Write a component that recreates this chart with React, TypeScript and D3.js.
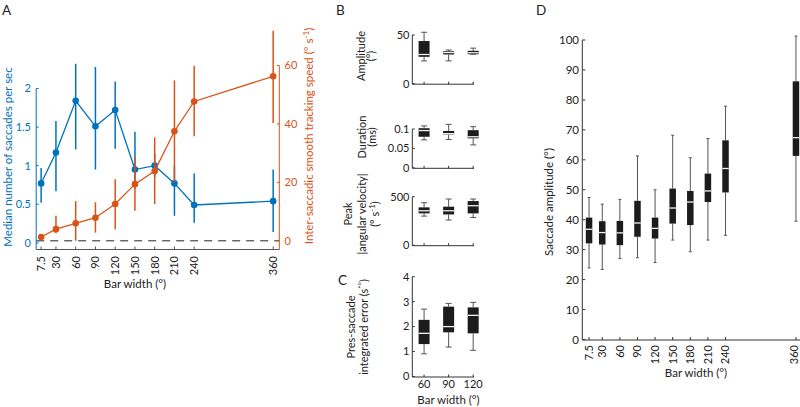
import React from 'react';
import * as d3 from 'd3';

// ---------- DATA ----------
// Panel A
const barWidthsA = [7.5, 30, 60, 90, 120, 150, 180, 210, 240, 360];
const saccadeRate = [0.77, 1.17, 1.84, 1.51, 1.72, 0.95, 1.0, 0.77, 0.49, 0.54];
const saccadeRateLo = [0.52, 0.67, 1.21, 0.95, 1.22, 0.7, 0.85, 0.35, 0.26, 0.14];
const saccadeRateHi = [0.97, 1.58, 2.32, 2.28, 2.09, 1.44, 1.15, 1.0, 0.9, 0.95];
const trackSpeed = [1.3, 4.0, 6.0, 7.9, 12.6, 19.4, 23.9, 37.5, 47.7, 56.3];
const trackSpeedLo = [0.8, 2.6, 0, 2.8, 4.0, 10.3, 12.6, 20.1, 35.8, 40.3];
const trackSpeedHi = [1.8, 8.6, 13.6, 13.2, 21.1, 28.5, 35.4, 54.9, 59.9, 71.9];
const leftTicksA = [0, 0.5, 1, 1.5, 2];
const rightTicksA = [0, 20, 40, 60];

// Panels B & C (bar widths 60, 90, 120); box = [whiskerLo, q1, median, q3, whiskerHi]
const barWidthsBC = [60, 90, 120];
const amplitudeBoxes = [
  [23.4, 27.6, 30.0, 43.8, 52.8],
  [23.4, 30.0, 32.0, 33.4, 34.6],
  [30.3, 30.3, 31.8, 33.8, 36.5],
];
const durationBoxes = [
  [0.072, 0.080, 0.096, 0.102, 0.108],
  [0.073, 0.086, 0.088, 0.095, 0.112],
  [0.059, 0.076, 0.080, 0.097, 0.106],
];
const peakVelBoxes = [
  [300, 328, 355, 390, 438],
  [259, 317, 355, 397, 476],
  [286, 328, 407, 455, 476],
];
const errorBoxes = [
  [0.91, 1.3, 1.73, 2.27, 2.7],
  [1.18, 1.77, 2.0, 2.8, 2.93],
  [1.05, 1.73, 2.45, 2.77, 2.97],
];
const ampTicks = [0, 50];
const durTicks = [0, 0.05, 0.1];
const peakTicks = [0, 500];
const errTicks = [0, 1, 2, 3, 4];

// Panel D
const barWidthsD = [7.5, 30, 60, 90, 120, 150, 180, 210, 240, 360];
const dWhiskerLo = [23.9, 23.4, 27.0, 27.3, 25.7, 33.2, 29.3, 33.2, 34.8, 39.5];
const dQ1 = [32.1, 31.7, 31.5, 34.3, 33.7, 38.7, 38.2, 45.9, 49.1, 61.3];
const dMedian = [36.8, 35.7, 35.6, 38.9, 37.1, 43.9, 45.9, 49.6, 57.1, 67.4];
const dQ3 = [40.7, 39.5, 39.6, 46.3, 40.7, 50.4, 49.6, 55.4, 66.5, 86.2];
const dWhiskerHi = [47.4, 45.2, 46.8, 61.3, 50.0, 68.2, 60.7, 67.1, 77.9, 101.3];
const dTicks = [0, 10, 20, 30, 40, 50, 60, 70, 80, 90, 100];

// ---------- STYLE ----------
const FONT = 'Lato, "Open Sans", sans-serif';
const BLUE = '#0072BD';
const ORANGE = '#D95319';
const AX = '#333';
const TXT = '#222';
const BOXFILL = '#1c1c1c';

function BoxPlot({ cx, w, cap, box, y }: any) {
  const [lo, q1, med, q3, hi] = box;
  return (
    <g>
      <line x1={cx} x2={cx} y1={y(hi)} y2={y(q3)} stroke="#555" strokeWidth={1} />
      <line x1={cx} x2={cx} y1={y(q1)} y2={y(lo)} stroke="#555" strokeWidth={1} />
      <line x1={cx - cap / 2} x2={cx + cap / 2} y1={y(hi)} y2={y(hi)} stroke="#555" strokeWidth={1} />
      <line x1={cx - cap / 2} x2={cx + cap / 2} y1={y(lo)} y2={y(lo)} stroke="#555" strokeWidth={1} />
      <rect x={cx - w / 2} y={y(q3)} width={w} height={Math.max(1, y(q1) - y(q3))} fill={BOXFILL} />
      <line x1={cx - w / 2} x2={cx + w / 2} y1={y(med)} y2={y(med)} stroke="#f2f2f2" strokeWidth={1.3} />
    </g>
  );
}

function SmallPanel({ boxes, domain, range, ticks, labelLines, labelX, labelY, lineGap, showXLabels }: any) {
  const x = d3.scaleLinear().domain([45.6, 121]).range([412.3, 474]);
  const y = d3.scaleLinear().domain(domain).range(range);
  return (
    <g>
      <line x1={x.range()[0]} x2={x.range()[0]} y1={y(domain[1])} y2={range[0] + 0.5} stroke={AX} strokeWidth={1} />
      <line x1={x.range()[0]} x2={x.range()[1]} y1={range[0] + 0.5} y2={range[0] + 0.5} stroke={AX} strokeWidth={1} />
      {ticks.map((t: number) => (
        <g key={t}>
          <line x1={x.range()[0]} x2={x.range()[0] + 2.5} y1={y(t)} y2={y(t)} stroke={AX} />
          <text x={409.5} y={y(t)} dy="0.35em" textAnchor="end" fontSize={11} fill={TXT} fontFamily={FONT}>{String(t)}</text>
        </g>
      ))}
      {barWidthsBC.map((c) => (
        <line key={c} x1={x(c)} x2={x(c)} y1={range[0] + 0.5} y2={range[0] - 2} stroke={AX} />
      ))}
      {boxes.map((b: number[], i: number) => (
        <BoxPlot key={i} cx={x(barWidthsBC[i])} w={11} cap={6} box={b} y={y} />
      ))}
      {showXLabels && barWidthsBC.map((c) => (
        <text key={c} x={x(c)} y={388} textAnchor="middle" fontSize={11} fill={TXT} fontFamily={FONT}>{String(c)}</text>
      ))}
      <g transform={`translate(${labelX},${labelY}) rotate(-90)`}>
        {labelLines.map((ln: any, i: number) => (
          <text key={i} x={0} y={i * lineGap} textAnchor="middle" fontSize={11} fill={TXT} fontFamily={FONT}>{ln}</text>
        ))}
      </g>
    </g>
  );
}

export default function App() {
  // Panel A scales
  const xA = d3.scaleLinear().domain([0, 369.3]).range([36.2, 279.3]);
  const yL = d3.scaleLinear().domain([-0.08, 2]).range([249, 88.5]);
  const yR = d3.scaleLinear().domain([-2.8, 60]).range([249, 65.5]);
  const lineL = d3.line<number>().x((_, i) => xA(barWidthsA[i])).y((d) => yL(d));
  const lineR = d3.line<number>().x((_, i) => xA(barWidthsA[i])).y((d) => yR(d));

  // Panel D scales
  const xD = d3.scaleLinear().domain([-4, 380]).range([582.3, 807.7]);
  const yD = d3.scaleLinear().domain([0, 100]).range([339.5, 40]);

  const sup = (s: string) => (
    <tspan fontSize={8} dy={-4}>{s}</tspan>
  );

  return (
    <svg width={800} height={407} style={{ position: 'absolute', left: 0, top: 0, background: '#fff' }} fontFamily={FONT}>
      <rect width={800} height={407} fill="#fff" />
      {/* ---------- Panel A ---------- */}
      <text x={2} y={15} fontSize={13.5} fill={TXT}>A</text>
      {/* dashed zero line */}
      <line x1={xA(0)} x2={xA.range()[1]} y1={yR(0)} y2={yR(0)} stroke="#222" strokeWidth={1} strokeDasharray="8,6" />
      {/* axes */}
      <line x1={xA(0)} x2={xA(0)} y1={yL(2)} y2={249.5} stroke={BLUE} strokeWidth={1} />
      <line x1={xA.range()[1]} x2={xA.range()[1]} y1={yR(60)} y2={249.5} stroke={ORANGE} strokeWidth={1} />
      <line x1={xA(0)} x2={xA.range()[1]} y1={249.5} y2={249.5} stroke="#555" strokeWidth={1} />
      {leftTicksA.map((t) => (
        <g key={t}>
          <line x1={xA(0)} x2={xA(0) + 2.5} y1={yL(t)} y2={yL(t)} stroke={BLUE} />
          <text x={31} y={yL(t)} dy="0.35em" textAnchor="end" fontSize={11} fill={BLUE}>{String(t)}</text>
        </g>
      ))}
      {rightTicksA.map((t) => (
        <g key={t}>
          <line x1={xA.range()[1]} x2={xA.range()[1] - 2.5} y1={yR(t)} y2={yR(t)} stroke={ORANGE} />
          <text x={284.5} y={yR(t)} dy="0.35em" textAnchor="start" fontSize={11} fill={ORANGE}>{String(t)}</text>
        </g>
      ))}
      {barWidthsA.map((c) => (
        <g key={c}>
          <line x1={xA(c)} x2={xA(c)} y1={249.5} y2={246.5} stroke="#555" />
          <text transform={`translate(${xA(c)},256) rotate(-90)`} dy="0.35em" textAnchor="end" fontSize={11} fill={TXT}>{String(c)}</text>
        </g>
      ))}
      <text x={135} y={288} textAnchor="middle" fontSize={11.5} fill={TXT}>Bar width (°)</text>
      <text transform="translate(12,157) rotate(-90)" textAnchor="middle" fontSize={11.5} fill={BLUE}>Median number of saccades per sec</text>
      <text transform="translate(313,136) rotate(-90)" textAnchor="middle" fontSize={11.5} fill={ORANGE}>
        Inter-saccadic smooth tracking speed (° s{sup('-1')}<tspan dy={4}>)</tspan>
      </text>
      {/* blue series */}
      {barWidthsA.map((c, i) => (
        <line key={c} x1={xA(c)} x2={xA(c)} y1={yL(saccadeRateLo[i])} y2={yL(saccadeRateHi[i])} stroke={BLUE} strokeWidth={1.5} />
      ))}
      <path d={lineL(saccadeRate) || ''} fill="none" stroke={BLUE} strokeWidth={1.3} />
      {barWidthsA.map((c, i) => (
        <circle key={c} cx={xA(c)} cy={yL(saccadeRate[i])} r={3.3} fill={BLUE} />
      ))}
      {/* orange series */}
      {barWidthsA.map((c, i) => (
        <line key={c} x1={xA(c)} x2={xA(c)} y1={yR(trackSpeedLo[i])} y2={yR(trackSpeedHi[i])} stroke={ORANGE} strokeWidth={1.5} />
      ))}
      <path d={lineR(trackSpeed) || ''} fill="none" stroke={ORANGE} strokeWidth={1.3} />
      {barWidthsA.map((c, i) => (
        <circle key={c} cx={xA(c)} cy={yR(trackSpeed[i])} r={3.3} fill={ORANGE} />
      ))}

      {/* ---------- Panel B ---------- */}
      <text x={336} y={15} fontSize={13.5} fill={TXT}>B</text>
      <SmallPanel boxes={amplitudeBoxes} domain={[0, 50]} range={[83.7, 35]} ticks={ampTicks}
        labelLines={['Amplitude', '(°)']} labelX={365} labelY={56} lineGap={10} />
      <SmallPanel boxes={durationBoxes} domain={[0, 0.1]} range={[167.8, 129]} ticks={durTicks}
        labelLines={['Duration', '(ms)']} labelX={366} labelY={137} lineGap={9.5} />
      <SmallPanel boxes={peakVelBoxes} domain={[0, 500]} range={[245.2, 196.7]} ticks={peakTicks}
        labelLines={['Peak', '|angular velocity|', <tspan key="p">(° s{sup('-1')}<tspan dy={4}>)</tspan></tspan>]}
        labelX={352} labelY={214} lineGap={13.5} />

      {/* ---------- Panel C ---------- */}
      <text x={338} y={285} fontSize={13.5} fill={TXT}>C</text>
      <SmallPanel boxes={errorBoxes} domain={[0, 4]} range={[376.5, 276.7]} ticks={errTicks}
        labelLines={['Pres-saccade', <tspan key="e">integrated error (s{sup('*°')}<tspan dy={4}>)</tspan></tspan>]}
        labelX={355} labelY={327} lineGap={13} showXLabels />
      <text x={448.5} y={404} textAnchor="middle" fontSize={11.5} fill={TXT}>Bar width (°)</text>

      {/* ---------- Panel D ---------- */}
      <text x={536} y={15} fontSize={13.5} fill={TXT}>D</text>
      <line x1={xD(-4)} x2={xD(-4)} y1={yD(100)} y2={340} stroke={AX} strokeWidth={1} />
      <line x1={xD(-4)} x2={800} y1={340} y2={340} stroke={AX} strokeWidth={1} />
      {dTicks.map((t) => (
        <g key={t}>
          <line x1={xD(-4)} x2={xD(-4) + 3} y1={yD(t)} y2={yD(t)} stroke={AX} />
          <text x={579} y={yD(t)} dy="0.35em" textAnchor="end" fontSize={11.5} fill={TXT}>{String(t)}</text>
        </g>
      ))}
      {barWidthsD.map((c, i) => (
        <g key={c}>
          <line x1={xD(c)} x2={xD(c)} y1={340} y2={337} stroke={AX} />
          <text transform={`translate(${Math.min(xD(c), 794)},345) rotate(-90)`} dy="0.35em" textAnchor="end" fontSize={11} fill={TXT}>{String(c)}</text>
          <BoxPlot cx={xD(c)} w={6.5} cap={3} box={[dWhiskerLo[i], dQ1[i], dMedian[i], dQ3[i], dWhiskerHi[i]]} y={yD} />
        </g>
      ))}
      <text x={696} y={377} textAnchor="middle" fontSize={11.5} fill={TXT}>Bar width (°)</text>
      <text transform="translate(553,202) rotate(-90)" textAnchor="middle" fontSize={11.5} fill={TXT}>Saccade amplitude (°)</text>
    </svg>
  );
}
